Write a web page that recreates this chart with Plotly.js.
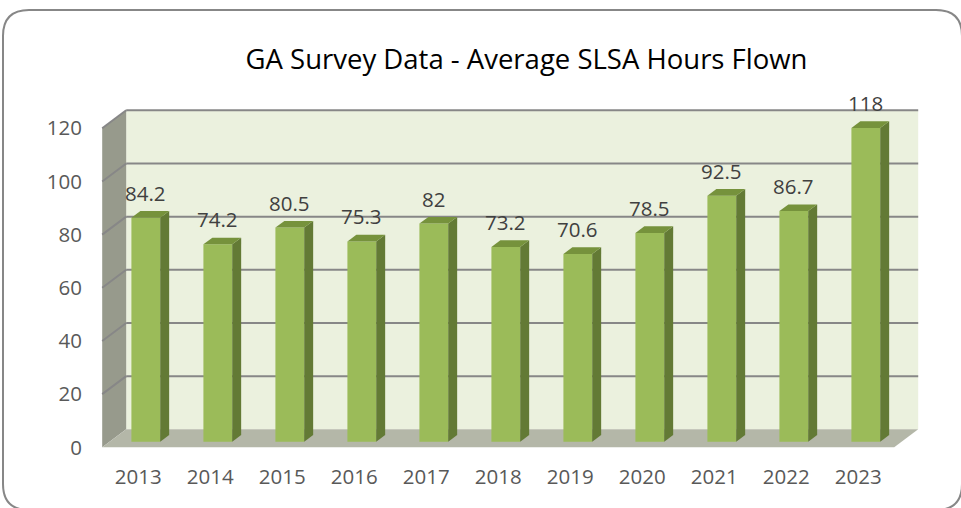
<!DOCTYPE html>
<html>
<head>
<meta charset="utf-8">
<script src="https://cdn.plot.ly/plotly-3.0.1.min.js"></script>
<style>
  html, body { margin: 0; padding: 0; background: #ffffff; }
  #chart { width: 961px; height: 508px; }
</style>
</head>
<body>
<div id="chart"></div>
<script>
// ---- Data ----
var years = ['2013','2014','2015','2016','2017','2018','2019','2020','2021','2022','2023'];
var hours = [84.2, 74.2, 80.5, 75.3, 82, 73.2, 70.6, 78.5, 92.5, 86.7, 118];
var yTicks = [0, 20, 40, 60, 80, 100, 120];
var chartTitle = 'GA Survey Data - Average SLSA Hours Flown';

// ---- Style / geometry ----
var W = 961, H = 508;
var ML = 95, MR = 38, MT = 107, MB = 58;
var XR = [-0.6, 10.9], YR = [-1, 128];
var DX = 0.3333, DY = 6.77;     // depth of the 3D box in axis units
var F1 = 0.317, F2 = 0.69;      // bar front / back depth fractions
var BW = 0.4;                   // bar width (category units)
var YMAX = 120;
var C_FRONT = '#9bbb59', C_SIDE = '#637a35', C_TOP = '#76923c';
var C_BACK = '#ebf1de', C_LEFT = '#979a8c', C_FLOOR = '#b4b7a8', C_GRID = '#878787';
var FONT = 'Open Sans, sans-serif';

var idx = years.map(function (_, i) { return i; });
var x0 = XR[0] + 0.1, x1 = idx.length - 0.5;

function P(pts) {
  return 'M ' + pts.map(function (p) { return p[0] + ',' + p[1]; }).join(' L ') + ' Z';
}

var shapes = [];
// back wall
shapes.push({type: 'path', layer: 'below', xref: 'x', yref: 'y',
  path: P([[x0 + DX, DY], [x1 + DX, DY], [x1 + DX, YMAX + DY], [x0 + DX, YMAX + DY]]),
  fillcolor: C_BACK, line: {width: 0}});
// left wall
shapes.push({type: 'path', layer: 'below', xref: 'x', yref: 'y',
  path: P([[x0, 0], [x0 + DX, DY], [x0 + DX, YMAX + DY], [x0, YMAX]]),
  fillcolor: C_LEFT, line: {width: 0}});
// floor
shapes.push({type: 'path', layer: 'below', xref: 'x', yref: 'y',
  path: P([[x0, 0], [x1, 0], [x1 + DX, DY], [x0 + DX, DY]]),
  fillcolor: C_FLOOR, line: {width: 0}});
// gridlines
yTicks.forEach(function (v) {
  if (v === 0) return;
  shapes.push({type: 'line', layer: 'below', xref: 'x', yref: 'y',
    x0: x0 + DX, y0: v + DY, x1: x1 + DX, y1: v + DY, line: {color: C_GRID, width: 2}});
  shapes.push({type: 'line', layer: 'below', xref: 'x', yref: 'y',
    x0: x0, y0: v, x1: x0 + DX, y1: v + DY, line: {color: C_GRID, width: 2}});
});
// bar sides & tops
idx.forEach(function (i) {
  var v = hours[i];
  var r1 = i + BW / 2 + F1 * DX, r2 = i + BW / 2 + F2 * DX;
  var l1 = i - BW / 2 + F1 * DX, l2 = i - BW / 2 + F2 * DX;
  shapes.push({type: 'path', layer: 'above', xref: 'x', yref: 'y',
    path: P([[r1, F1 * DY], [r2, F2 * DY], [r2, v + F2 * DY], [r1, v + F1 * DY]]),
    fillcolor: C_SIDE, line: {width: 0}});
  shapes.push({type: 'path', layer: 'above', xref: 'x', yref: 'y',
    path: P([[l1, v + F1 * DY], [l2, v + F2 * DY], [r2, v + F2 * DY], [r1, v + F1 * DY]]),
    fillcolor: C_TOP, line: {width: 0}});
});

// outer rounded border (pixel -> paper)
var PW = W - ML - MR, PH = H - MT - MB;
function px(x) { return (x - ML) / PW; }
function py(y) { return 1 - (y - MT) / PH; }
var bl = 3, bt = 10, br = 962, bb = 510, rad = 26;
var bpath = 'M ' + px(bl + rad) + ',' + py(bt) +
  ' L ' + px(br - rad) + ',' + py(bt) +
  ' Q ' + px(br) + ',' + py(bt) + ' ' + px(br) + ',' + py(bt + rad) +
  ' L ' + px(br) + ',' + py(bb - rad) +
  ' Q ' + px(br) + ',' + py(bb) + ' ' + px(br - rad) + ',' + py(bb) +
  ' L ' + px(bl + rad) + ',' + py(bb) +
  ' Q ' + px(bl) + ',' + py(bb) + ' ' + px(bl) + ',' + py(bb - rad) +
  ' L ' + px(bl) + ',' + py(bt + rad) +
  ' Q ' + px(bl) + ',' + py(bt) + ' ' + px(bl + rad) + ',' + py(bt) + ' Z';
shapes.push({type: 'path', layer: 'below', xref: 'paper', yref: 'paper', path: bpath,
  line: {color: '#878787', width: 2}, fillcolor: 'rgba(0,0,0,0)'});

var annotations = idx.map(function (i) {
  return {x: i + F1 * DX, y: hours[i] + F1 * DY, xref: 'x', yref: 'y',
    text: String(hours[i]), showarrow: false, yshift: 25, xanchor: 'center', yanchor: 'middle',
    font: {family: FONT, size: 20.5, color: '#404040'}};
});

var trace = {
  type: 'bar',
  x: idx.map(function (i) { return i + F1 * DX; }),
  y: hours,
  base: F1 * DY,
  width: BW,
  marker: {color: C_FRONT, line: {width: 0}},
  hoverinfo: 'skip'
};

var layout = {
  width: W, height: H,
  margin: {l: ML, r: MR, t: MT, b: MB, pad: 0},
  paper_bgcolor: 'rgba(0,0,0,0)', plot_bgcolor: 'rgba(0,0,0,0)',
  showlegend: false,
  title: {text: chartTitle, x: px(526.5), xref: 'paper', xanchor: 'center',
    y: 1 - 59 / H, yref: 'container', yanchor: 'middle',
    font: {family: FONT, size: 27.5, color: '#000000'}},
  xaxis: {range: XR, tickvals: idx, ticktext: years, showgrid: false, zeroline: false,
    showline: false, ticks: '', ticklabelstandoff: 12,
    tickfont: {family: FONT, size: 20.5, color: '#595959'}, fixedrange: true},
  yaxis: {range: YR, tickvals: yTicks, ticktext: yTicks.map(String), showgrid: false, zeroline: false,
    showline: false, ticks: '', ticklabelstandoff: 12,
    tickfont: {family: FONT, size: 20.5, color: '#595959'}, fixedrange: true},
  shapes: shapes,
  annotations: annotations,
  hovermode: false
};

Plotly.newPlot('chart', [trace], layout, {displayModeBar: false, staticPlot: true});
</script>
</body>
</html>
